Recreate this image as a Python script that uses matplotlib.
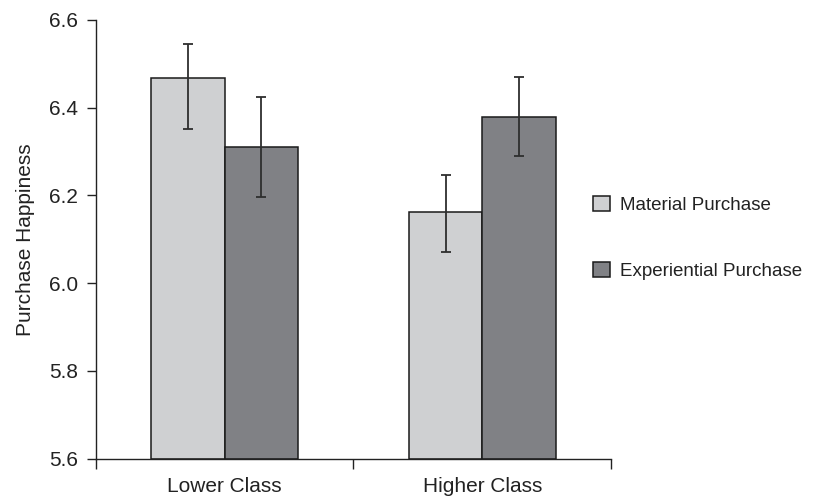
import matplotlib
matplotlib.use("Agg")
import matplotlib.pyplot as plt
import numpy as np

categories = ["Lower Class", "Higher Class"]
series_names = ["Material Purchase", "Experiential Purchase"]
material_means = [6.467, 6.163]
material_ci_low = [6.352, 6.072]
material_ci_high = [6.545, 6.247]
experiential_means = [6.311, 6.379]
experiential_ci_low = [6.196, 6.290]
experiential_ci_high = [6.425, 6.470]
y_ticks = [5.6, 5.8, 6.0, 6.2, 6.4, 6.6]
y_label = "Purchase Happiness"

plt.rcParams['font.family'] = ['Liberation Sans', 'DejaVu Sans']
FS = 15
LFS = 13.5

fig = plt.figure(figsize=(8.13, 5.01), dpi=100)
ax = fig.add_axes([0.1178, 0.0848, 0.634, 0.8753])

x = np.arange(len(categories))
w = 0.285
colors = ["#cfd0d2", "#808185"]
edge_lw = 1.1

def draw(offset, means, lo, hi, color, label):
    means = np.array(means)
    yerr = np.vstack([means - np.array(lo), np.array(hi) - means])
    ax.bar(x + offset, means - 5.6, bottom=5.6, width=w, color=color,
           edgecolor="#1a1a1a", linewidth=edge_lw, label=label, zorder=2)
    ax.errorbar(x + offset, means, yerr=yerr, fmt="none", ecolor="#2e2e2e",
                elinewidth=1.3, capsize=3.3, capthick=1.3, zorder=3)

draw(-w / 2, material_means, material_ci_low, material_ci_high, colors[0], series_names[0])
draw(w / 2, experiential_means, experiential_ci_low, experiential_ci_high, colors[1], series_names[1])

ax.set_xlim(-0.5, 1.5)
ax.set_ylim(5.6, 6.6)
ax.set_yticks(y_ticks)
ax.set_yticklabels([f"{v:.1f}" for v in y_ticks], fontsize=FS, color="#222222")
ax.set_xticks(x)
ax.set_xticklabels(categories, fontsize=FS, color="#222222")
ax.set_xticks([-0.5, 0.5, 1.5], minor=True)
ax.tick_params(axis="x", which="major", length=0, pad=13)
ax.tick_params(axis="x", which="minor", length=7, width=1.0, direction="out", color="#222222")
ax.tick_params(axis="y", which="major", length=6.5, width=1.0, direction="out", pad=6.5, color="#222222")

for s in ["top", "right"]:
    ax.spines[s].set_visible(False)
for s in ["left", "bottom"]:
    ax.spines[s].set_linewidth(1.0)
    ax.spines[s].set_color("#222222")

ax.set_ylabel(y_label, fontsize=FS, color="#222222", labelpad=10)

leg = fig.legend(loc="center left", bbox_to_anchor=(593 / 813, 1 - 238 / 501),
                 frameon=False, fontsize=LFS, handlelength=0.89, handleheight=0.85,
                 handletextpad=0.53, labelspacing=2.6, borderpad=0, borderaxespad=0)
for t in leg.get_texts():
    t.set_color("#222222")

fig.savefig("out.png", dpi=100)
